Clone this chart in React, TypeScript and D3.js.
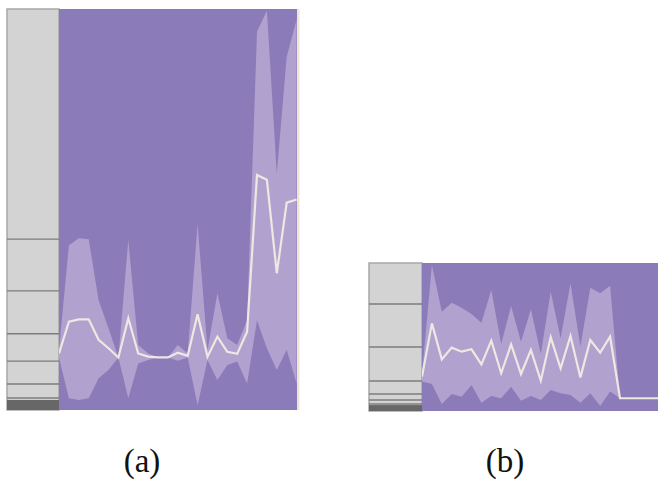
import React from 'react';
import * as d3 from 'd3';

// panel (a): mean, upper and lower envelope, one value per step
const meanA = [14.1, 22.0, 22.6, 22.6, 17.5, 15.4, 13.1, 22.9, 14.1, 13.3, 13.1, 13.1, 14.3, 13.5, 23.9, 13.3, 18.3, 14.5, 14.0, 19.5, 58.6, 57.4, 34.1, 51.7, 52.5];
const upperA = [15.0, 41.1, 42.8, 42.6, 27.4, 20.4, 13.1, 42.4, 16.2, 14.1, 13.1, 13.1, 16.2, 14.1, 46.4, 15.0, 29.1, 17.9, 16.2, 22.4, 94.3, 99.6, 59.0, 88.1, 97.3];
const lowerA = [13.0, 2.9, 2.5, 2.9, 7.9, 10.0, 13.1, 2.9, 11.6, 12.5, 13.1, 13.1, 12.3, 13.1, 1.2, 12.5, 7.5, 11.2, 12.1, 6.6, 22.4, 15.4, 10.0, 15.0, 6.6];
const ticksA = [42.6, 29.7, 19.0, 12.2, 6.5, 3.0];
const darkA = 2.5;

// panel (b)
const meanB = [23.2, 59.2, 34.9, 42.8, 40.1, 41.7, 31.5, 47.5, 25.5, 45.0, 25.0, 41.2, 20.5, 49.8, 28.8, 50.7, 22.7, 48.0, 39.4, 50.2, 8.6, 8.6, 8.6, 8.6, 8.6];
const upperB = [25.0, 98.6, 67.1, 73.2, 69.8, 65.5, 59.7, 81.8, 45.3, 70.9, 46.8, 68.7, 38.5, 80.6, 49.1, 86.3, 43.5, 83.3, 79.5, 84.7, 8.6, 8.6, 8.6, 8.6, 8.6];
const lowerB = [20.0, 18.2, 4.7, 11.5, 9.7, 17.6, 5.6, 10.1, 8.6, 16.4, 7.0, 10.1, 7.4, 14.2, 12.0, 10.8, 5.6, 12.0, 3.4, 13.1, 8.6, 8.6, 8.6, 8.6, 8.6];
const ticksB = [72.3, 43.2, 20.3, 11.5, 7.4, 4.7];
const darkB = 4;

const labels = ['(a)', '(b)'];

const PURPLE = '#8b7bb8';
const BAND = '#b1a1cf';
const LINE = '#ece8e2';

type PanelProps = {
  id: string;
  x0: number; barW: number; plotW: number;
  top: number; bottom: number;
  mean: number[]; upper: number[]; lower: number[];
  ticks: number[]; dark: number;
  edge?: boolean;
};

function Panel({ id, x0, barW, plotW, top, bottom, mean, upper, lower, ticks, dark, edge }: PanelProps) {
  const px = x0 + barW;
  const x = d3.scaleLinear().domain([0, 1]).range([px, px + 9.9]);
  const y = d3.scaleLinear().domain([0, 100]).range([bottom, top]);

  const area = d3.area<number>()
    .x((_, i) => x(i))
    .y0((_, i) => y(lower[i]))
    .y1((d) => y(d));
  const line = d3.line<number>()
    .x((_, i) => x(i))
    .y((d) => y(d));

  return (
    <g>
      <defs>
        <clipPath id={id}>
          <rect x={px} y={top} width={plotW} height={bottom - top} />
        </clipPath>
      </defs>
      {/* gray bar */}
      <rect x={x0} y={top} width={barW} height={bottom - top} fill="#d3d3d3" stroke="#a8a8a8" strokeWidth={1.5} />
      {ticks.map((t, i) => (
        <line key={i} x1={x0} x2={px} y1={y(t)} y2={y(t)} stroke="#7c7c7c" strokeWidth={1.4} />
      ))}
      <rect x={x0} y={y(dark)} width={barW} height={bottom - y(dark)} fill="#676767" />
      {/* plot */}
      <rect x={px} y={top} width={plotW} height={bottom - top} fill={PURPLE} />
      <g clipPath={`url(#${id})`}>
        <path d={area(upper) || ''} fill={BAND} />
        <path d={line(mean) || ''} fill="none" stroke={LINE} strokeWidth={2.2} strokeLinejoin="miter" />
      </g>
      {edge && <rect x={px + plotW} y={top} width={2.5} height={bottom - top} fill="#efe5d6" />}
    </g>
  );
}

export default function App() {
  return (
    <svg width={658} height={481} style={{ position: 'absolute', left: 0, top: 0, background: '#fff' }}>
      <Panel id="clipA" x0={7} barW={52} plotW={238} top={9} bottom={410}
        mean={meanA} upper={upperA} lower={lowerA} ticks={ticksA} dark={darkA} edge />
      <Panel id="clipB" x0={369} barW={53} plotW={236} top={263} bottom={411}
        mean={meanB} upper={upperB} lower={lowerB} ticks={ticksB} dark={darkB} />
      {labels.map((l, i) => (
        <text key={l} x={i === 0 ? 142 : 505} y={472} textAnchor="middle"
          fontFamily="'Liberation Serif', 'DejaVu Serif', serif" fontSize={33} fill="#111">{l}</text>
      ))}
    </svg>
  );
}
